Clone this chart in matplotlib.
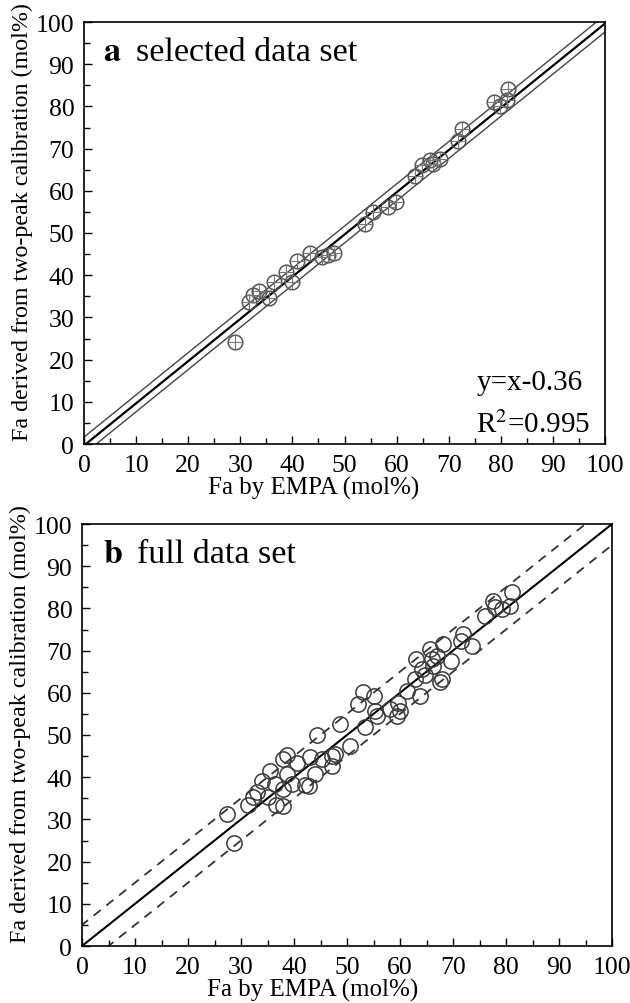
import numpy as np
import matplotlib
matplotlib.use("Agg")
import matplotlib.pyplot as plt

plt.rcParams["font.family"] = ["Liberation Serif", "DejaVu Serif"]
plt.rcParams["mathtext.fontset"] = "stix"

# selected data set (panel a): EMPA vs two-peak calibration, mol% Fa
sel_empa = [29.0, 31.7, 32.4, 33.5, 35.6, 36.5, 38.8, 39.9, 40.9, 43.4,
            45.6, 46.8, 47.9, 53.9, 55.5, 58.4, 59.9, 63.5, 64.8, 66.4,
            67.0, 68.3, 71.8, 72.5, 78.6, 79.8, 81.1, 81.4]
sel_calib = [24.2, 33.6, 35.3, 36.3, 34.5, 38.3, 40.8, 38.5, 43.4, 45.3,
             44.2, 44.8, 45.2, 52.1, 55.0, 56.1, 57.3, 63.6, 66.1, 67.4,
             66.4, 67.5, 71.9, 74.6, 81.0, 80.2, 81.4, 84.1]

# full data set (panel b)
full_empa = [27.4, 28.7, 31.4, 32.2, 33.0, 33.9, 35.5, 35.0, 36.4, 36.6,
             38.0, 37.9, 38.7, 38.0, 38.6, 39.6, 40.6, 42.1, 42.9, 44.0,
             43.1, 44.3, 45.2, 47.1, 47.1, 47.7, 48.6, 50.6, 52.0, 53.1,
             55.0, 53.4, 55.3, 55.6, 58.1, 59.7, 59.4, 60.0, 61.3, 63.8,
             62.8, 63.1, 64.1, 64.7, 65.7, 66.0, 66.3, 66.9, 67.5, 67.9,
             68.2, 69.7, 71.9, 71.6, 73.5, 76.0, 77.6, 77.9, 79.2, 80.8,
             81.1]
full_calib = [31.3, 24.4, 33.4, 35.2, 36.5, 39.2, 41.5, 35.2, 38.4, 33.4,
              33.1, 44.3, 45.3, 37.2, 40.8, 38.4, 43.4, 38.2, 38.0, 40.8,
              44.7, 50.0, 44.3, 45.1, 42.7, 45.5, 52.6, 47.3, 57.3, 60.1,
              59.3, 51.8, 55.8, 54.6, 56.2, 57.7, 54.6, 55.8, 60.5, 59.3,
              63.3, 68.0, 65.6, 64.1, 70.4, 68.0, 66.4, 68.8, 62.5, 63.3,
              71.6, 67.6, 73.9, 72.3, 71.2, 78.3, 81.8, 80.3, 79.9, 80.6,
              83.8]

fit_intercept = -0.36
fit_band = 2.0
ref_band = 5.0

W, H = 630, 1004
fig = plt.figure(figsize=(W / 100, H / 100), dpi=100)


def style_axes(ax, xlabel_x):
    ax.set_xlim(0, 100)
    ax.set_ylim(0, 100)
    ax.set_xticks(np.arange(0, 101, 10))
    ax.set_yticks(np.arange(0, 101, 10))
    ax.set_xticks(np.arange(0, 101, 5), minor=True)
    ax.set_yticks(np.arange(0, 101, 5), minor=True)
    ax.tick_params(which="both", direction="in", top=False, right=False,
                   width=1.0, labelsize=18.5, pad=7)
    ax.tick_params(which="major", length=6)
    ax.tick_params(which="minor", length=4)
    for sp in ax.spines.values():
        sp.set_linewidth(1.2)
    ax.set_xlabel("Fa by EMPA (mol%)", fontsize=18, labelpad=0)
    ax.xaxis.label.set_x(xlabel_x)
    ax.set_ylabel("Fa derived from two-peak calibration (mol%)",
                  fontsize=17.3, labelpad=2)
    ax.yaxis.label.set_y(0.528)


xs = np.array([-5, 105])

# panel a
ax1 = fig.add_axes([84 / W, 1 - 445 / H, 521 / W, 422 / H])
ax1.plot(xs, xs + fit_intercept + fit_band, color="#444444", lw=1.0)
ax1.plot(xs, xs + fit_intercept - fit_band, color="#444444", lw=1.0)
ax1.plot(xs, xs + fit_intercept, color="black", lw=1.6)
ax1.plot(sel_empa, sel_calib, "o", ms=10.5, mfc="none", mec="#555555", mew=1.1)
ax1.plot(sel_empa, sel_calib, "+", ms=10, color="#777777", mew=0.8)
style_axes(ax1, 0.44)
ax1.text(3.6, 93, r"$\mathbf{a}$", fontsize=24.5, va="center", ha="left")
ax1.text(10.0, 93, "selected data set", fontsize=24.5, va="center", ha="left")
ax1.text(75.3, 14.7, "y=x-0.36", fontsize=21, va="center", ha="left")
ax1.text(75.3, 4.7, r"R$^2$=0.995", fontsize=21, va="center", ha="left")

# panel b
ax2 = fig.add_axes([82 / W, 1 - 947 / H, 530 / W, 422 / H])
ax2.plot(xs, xs + ref_band, color="#333333", lw=1.3, ls=(0, (5, 4)))
ax2.plot(xs, xs - ref_band, color="#333333", lw=1.3, ls=(0, (5, 4)))
ax2.plot(xs, xs, color="black", lw=1.5)
ax2.plot(full_empa, full_calib, "o", ms=11, mfc="none", mec="#3a3a3a", mew=1.1)
style_axes(ax2, 0.436)
ax2.text(4.0, 93, r"$\mathbf{b}$", fontsize=24.5, va="center", ha="left")
ax2.text(10.3, 93, "full data set", fontsize=24.5, va="center", ha="left")

fig.savefig("out.png", dpi=100)
